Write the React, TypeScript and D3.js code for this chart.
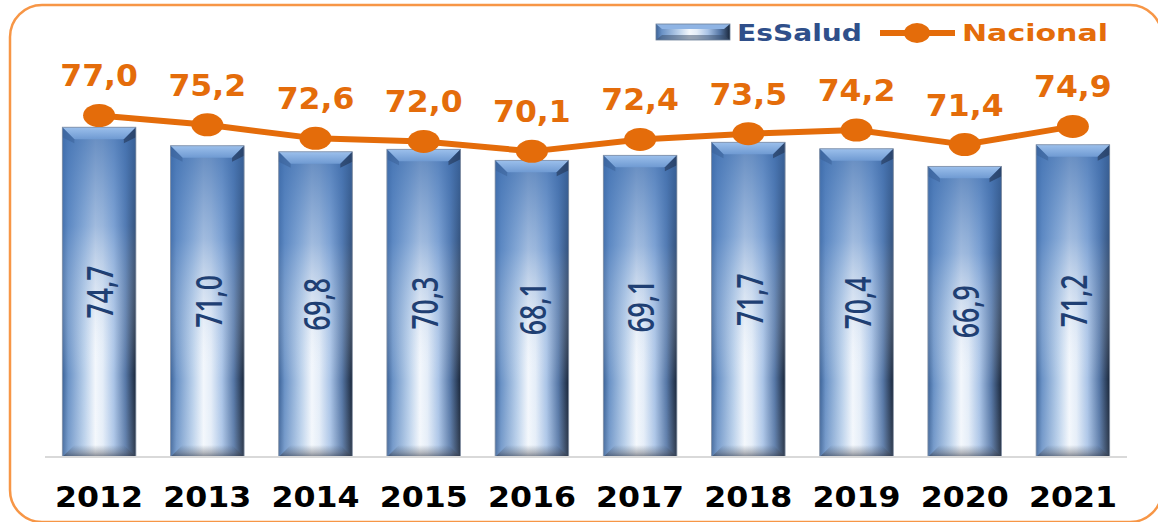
import React from 'react';
import * as d3 from 'd3';

const years = ['2012', '2013', '2014', '2015', '2016', '2017', '2018', '2019', '2020', '2021'];
const esSalud = [74.7, 71.0, 69.8, 70.3, 68.1, 69.1, 71.7, 70.4, 66.9, 71.2];
const nacional = [77.0, 75.2, 72.6, 72.0, 70.1, 72.4, 73.5, 74.2, 71.4, 74.9];
const legendLabels = ['EsSalud', 'Nacional'];

const width = 1158;
const height = 522;
const orange = '#E46C0A';
const fmt = (v: number) => v.toFixed(1).replace('.', ',');

const BarGradients = () => (
  <defs>
    <linearGradient id="barH" x1="0" x2="1" y1="0" y2="0">
      <stop offset="0%" stopColor="#3C6398" />
      <stop offset="8%" stopColor="#6A92C6" />
      <stop offset="30%" stopColor="#B8CFEA" />
      <stop offset="45%" stopColor="#F3F7FC" />
      <stop offset="55%" stopColor="#E4EDF8" />
      <stop offset="70%" stopColor="#A9C3E6" />
      <stop offset="86%" stopColor="#5677A6" />
      <stop offset="100%" stopColor="#19263A" />
    </linearGradient>
    <linearGradient id="barV" x1="0" x2="0" y1="0" y2="1">
      <stop offset="0%" stopColor="#3F6FB0" stopOpacity="0.8" />
      <stop offset="30%" stopColor="#4F7FC0" stopOpacity="0.5" />
      <stop offset="75%" stopColor="#ffffff" stopOpacity="0" />
      <stop offset="100%" stopColor="#ffffff" stopOpacity="0.1" />
    </linearGradient>
    <linearGradient id="bevTop" x1="0" x2="0" y1="0" y2="1">
      <stop offset="0%" stopColor="#9CC0EC" />
      <stop offset="100%" stopColor="#6F9AD2" />
    </linearGradient>
    <linearGradient id="bevBot" x1="0" x2="0" y1="0" y2="1">
      <stop offset="0%" stopColor="#3A4A60" stopOpacity="0" />
      <stop offset="60%" stopColor="#4A4C55" stopOpacity="0.35" />
      <stop offset="100%" stopColor="#2A3345" stopOpacity="0.6" />
    </linearGradient>
  </defs>
);

export default function App() {
  const x = d3.scaleBand<string>()
    .domain(years)
    .range([45, 1127])
    .paddingInner(0.32)
    .paddingOuter(0.16);
  const yBar = d3.scaleLinear().domain([9, 80]).range([457, 100.6]);
  const yLine = d3.scaleLinear().domain([11.3, 80]).range([457, 99.9]);

  const bw = x.bandwidth();
  const cx = (i: number) => (x(years[i]) as number) + bw / 2;
  const base = yBar(9);
  const bev = 12;

  const line = d3.line<number>()
    .x((_, i) => cx(i))
    .y((d) => yLine(d));

  return (
    <svg width={width} height={height} style={{ position: 'absolute', left: 0, top: 0, background: '#fff' }}>
      <BarGradients />
      <rect x={10} y={5} width={1152} height={517} rx={32} ry={32}
        fill="#fff" stroke="#F79646" strokeWidth={2.5} />

      {/* bars */}
      {esSalud.map((v, i) => {
        const x0 = x(years[i]) as number;
        const top = yBar(v);
        const h = base - top;
        return (
          <g key={`bar-${years[i]}`}>
            <rect x={x0} y={top} width={bw} height={h} fill="url(#barH)" />
            <rect x={x0} y={top} width={bw} height={h} fill="url(#barV)" />
            <path d={`M${x0},${top}L${x0 + bw},${top}L${x0 + bw - bev},${top + bev}L${x0 + bev},${top + bev}Z`}
              fill="url(#bevTop)" />
            <path d={`M${x0},${top}L${x0 + bev},${top + bev}L${x0 + bev},${top + bev + 4}L${x0},${top + 10}Z`}
              fill="#3A5F95" opacity={0.5} />
            <path d={`M${x0 + bw},${top}L${x0 + bw - bev},${top + bev}L${x0 + bw - bev},${top + bev + 4}L${x0 + bw},${top + 10}Z`}
              fill="#1B2A44" opacity={0.5} />
            <path d={`M${x0},${base}L${x0 + bw},${base}L${x0 + bw - bev},${base - bev}L${x0 + bev},${base - bev}Z`}
              fill="url(#bevBot)" />
            <rect x={x0} y={top} width={bw} height={h} fill="none" stroke="#8592A6" strokeWidth={0.8} />
            <text
              transform={`translate(${cx(i)},${(top + base) / 2}) rotate(-90) scale(0.74,1)`}
              textAnchor="middle" dominantBaseline="central"
              fontFamily="Open Sans, Liberation Sans, sans-serif" fontWeight={600} fontSize={36}
              fill="#1F3F73">{fmt(v)}</text>
          </g>
        );
      })}

      {/* axis line */}
      <line x1={45} x2={1127} y1={base} y2={base} stroke="#D9D9D9" strokeWidth={2} />

      {/* year labels */}
      {years.map((yr, i) => (
        <text key={`yr-${yr}`} transform={`translate(${cx(i)},507) scale(1.15,1)`}
          textAnchor="middle" fontFamily="DejaVu Sans, sans-serif" fontWeight="bold"
          fontSize={27.5} fill="#000">{yr}</text>
      ))}

      {/* nacional line */}
      <path d={line(nacional) || ''} fill="none" stroke={orange} strokeWidth={6} strokeLinejoin="round" />
      {nacional.map((v, i) => (
        <g key={`pt-${years[i]}`}>
          <ellipse cx={cx(i)} cy={yLine(v)} rx={16} ry={11.5} fill={orange} />
          <text transform={`translate(${cx(i)},${yLine(v) - 29}) scale(1.05,1)`}
            textAnchor="middle" fontFamily="DejaVu Sans, sans-serif" fontWeight="bold"
            fontSize={30} fill={orange}>{fmt(v)}</text>
        </g>
      ))}

      {/* legend */}
      <g>
        <rect x={656} y={24} width={74} height={16} fill="url(#barH)" />
        <path d="M656,24L730,24L724,29L662,29Z" fill="#8FB4E4" />
        <path d="M656,40L730,40L724,35L662,35Z" fill="#3A4E6A" opacity={0.5} />
        <rect x={656} y={24} width={74} height={16} fill="none" stroke="#6C7F99" strokeWidth={0.8} />
        <text x={737} y={41} textLength={125} lengthAdjust="spacingAndGlyphs"
          fontFamily="DejaVu Sans, sans-serif" fontWeight="bold" fontSize={23}
          fill="#2F4F8A">{legendLabels[0]}</text>
        <line x1={880} x2={955} y1={33} y2={33} stroke={orange} strokeWidth={6} />
        <ellipse cx={917} cy={33} rx={13} ry={10} fill={orange} />
        <text x={962} y={41} textLength={146} lengthAdjust="spacingAndGlyphs"
          fontFamily="DejaVu Sans, sans-serif" fontWeight="bold" fontSize={23}
          fill={orange}>{legendLabels[1]}</text>
      </g>
    </svg>
  );
}
